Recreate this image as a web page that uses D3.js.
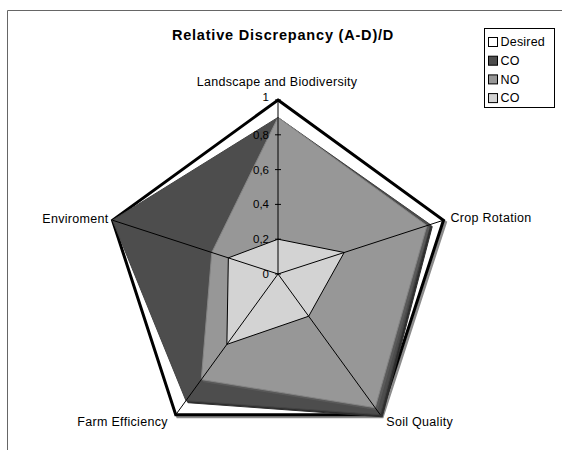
<!DOCTYPE html>
<html>
<head>
<meta charset="utf-8">
<script src="https://cdn.jsdelivr.net/npm/d3@7"></script>
<style>
  body { margin: 0; background: #fff; }
  text { font-family: "Liberation Sans", Arial, sans-serif; fill: #000; }
</style>
</head>
<body>
<div id="chart"></div>
<script>
// data
const categories = ["Landscape and Biodiversity", "Crop Rotation", "Soil Quality", "Farm Efficiency", "Enviroment"];
const seriesNames = ["Desired", "CO", "NO", "CO"];
const desiredValues = [1, 1, 1, 1, 1];
const coValues = [0.9, 0.92, 1, 0.9, 1];
const noValues = [0.9, 0.9, 0.95, 0.75, 0.4];
const co2Values = [0.2, 0.4, 0.3, 0.5, 0.3];
const tickValues = [0, 0.2, 0.4, 0.6, 0.8, 1];
const titleText = "Relative Discrepancy (A-D)/D";

const seriesStyle = [
    {fill: "#ffffff", stroke: "#000", strokeWidth: 3, shadow: "#8c8c8c"},
    {fill: "#4d4d4d", stroke: "#444", strokeWidth: 1, shadow: "#2e2e2e"},
    {fill: "#979797", stroke: "#858585", strokeWidth: 1, shadow: "#5a5a5a"},
    {fill: "#d3d3d3", stroke: "#000", strokeWidth: 1, shadow: null}
];
const seriesValues = [desiredValues, coValues, noValues, co2Values];

const width = 562, height = 450;
const cx = 278, cy = 274, radius = 174;

const svg = d3.select("#chart").append("svg")
    .attr("width", width)
    .attr("height", height);

// chart area border (runs off the right and bottom edges)
svg.append("path")
    .attr("d", "M7.5,450 L7.5,10.5 L562,10.5")
    .attr("fill", "none")
    .attr("stroke", "#666")
    .attr("stroke-width", 1);

svg.append("text")
    .attr("x", 283)
    .attr("y", 40)
    .attr("text-anchor", "middle")
    .style("font-size", "14.5px")
    .style("letter-spacing", "0.8px")
    .style("font-weight", "bold")
    .text(titleText);

const rScale = d3.scaleLinear().domain([0, 1]).range([0, radius]);
const angle = i => i * 2 * Math.PI / categories.length;

const radar = d3.lineRadial()
    .angle((d, i) => angle(i))
    .radius(d => rScale(d))
    .curve(d3.curveLinearClosed);

const g = svg.append("g").attr("transform", `translate(${cx},${cy})`);

// series, each with a small drop shadow
seriesValues.forEach((vals, si) => {
    const st = seriesStyle[si];
    if (st.shadow) {
        g.append("path")
            .attr("d", radar(vals))
            .attr("transform", "translate(2,2)")
            .attr("fill", si === 0 ? "none" : st.shadow)
            .attr("stroke", st.shadow)
            .attr("stroke-width", st.strokeWidth)
            .attr("stroke-linejoin", "miter");
    }
    g.append("path")
        .attr("d", radar(vals))
        .attr("fill", st.fill)
        .attr("stroke", st.stroke)
        .attr("stroke-width", st.strokeWidth)
        .attr("stroke-linejoin", "miter");
});

// spokes
const pt = (i, v) => {
    const a = angle(i);
    return [Math.sin(a) * rScale(v), -Math.cos(a) * rScale(v)];
};
categories.forEach((c, i) => {
    const [x, y] = pt(i, 1);
    g.append("line")
        .attr("x1", 0).attr("y1", 0)
        .attr("x2", x).attr("y2", y)
        .attr("stroke", "#000")
        .attr("stroke-width", 1);
});

// value axis on the first spoke
const fmt = d3.formatLocale({decimal: ",", thousands: ".", grouping: [3], currency: ["", ""]}).format("~g");
const yAxisScale = d3.scaleLinear().domain([0, 1]).range([0, -radius]);
tickValues.forEach(t => {
    g.append("line")
        .attr("x1", -3).attr("x2", 3)
        .attr("y1", yAxisScale(t)).attr("y2", yAxisScale(t))
        .attr("stroke", "#000");
    g.append("text")
        .attr("x", -9)
        .attr("y", yAxisScale(t) - (t === 1 ? 3 : 0))
        .attr("dy", "0.35em")
        .attr("text-anchor", "end")
        .style("font-size", "11.5px")
        .text(fmt(t));
});

// category labels
const labelOffsets = [
    {dx: -1, dy: -18, anchor: "middle"},
    {dx: 7, dy: -3, anchor: "start"},
    {dx: 6, dy: 7, anchor: "start"},
    {dx: -8, dy: 7, anchor: "end"},
    {dx: -4, dy: -2, anchor: "end"}
];
categories.forEach((c, i) => {
    const [x, y] = pt(i, 1);
    const o = labelOffsets[i];
    g.append("text")
        .attr("x", x + o.dx)
        .attr("y", y + o.dy)
        .attr("dy", "0.35em")
        .attr("text-anchor", o.anchor)
        .style("font-size", "12.5px")
        .style("letter-spacing", "0.3px")
        .text(c);
});

// legend
const legend = svg.append("g").attr("transform", "translate(484.5,28.5)");
legend.append("rect")
    .attr("width", 70)
    .attr("height", 79)
    .attr("fill", "#fff")
    .attr("stroke", "#000");
seriesNames.forEach((name, i) => {
    const y = 13.5 + i * 18.7;
    legend.append("rect")
        .attr("x", 4).attr("y", y - 4.5)
        .attr("width", 9).attr("height", 9)
        .attr("fill", seriesStyle[i].fill)
        .attr("stroke", "#000");
    legend.append("text")
        .attr("x", 16)
        .attr("y", y)
        .attr("dy", "0.35em")
        .style("font-size", "12.5px")
        .style("letter-spacing", "0.2px")
        .text(name);
});
</script>
</body>
</html>
